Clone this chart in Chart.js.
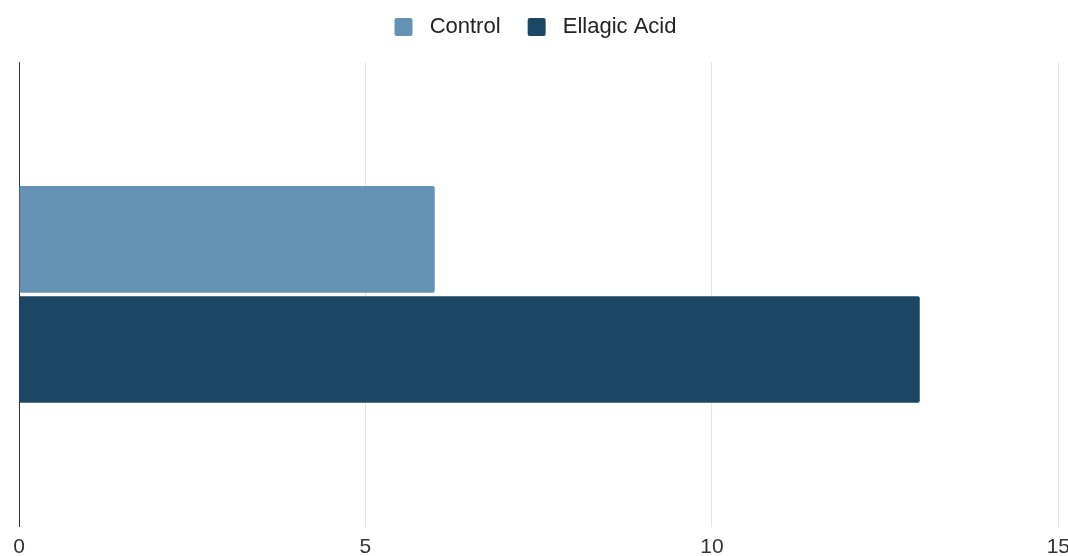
<!DOCTYPE html>
<html>
<head>
<meta charset="utf-8">
<script src="https://cdn.jsdelivr.net/npm/chart.js@4/dist/chart.umd.min.js"></script>
<style>
  html, body { margin: 0; padding: 0; background: #fff; overflow: hidden; }
  #wrap { width: 1078px; height: 568px; }
</style>
</head>
<body>
<div id="wrap"><canvas id="grafico" width="1078" height="568"></canvas></div>
<script>
var categorias = [""];
var nombres = ["Control", "Ellagic Acid"];
var valoresControl = [6];
var valoresEllagic = [13];
var ticksX = [0, 5, 10, 15];

// hueco extra bajo la leyenda
var margenLeyenda = {
    id: 'margenLeyenda',
    beforeInit: function (chart) {
        var fitOriginal = chart.legend.fit;
        chart.legend.fit = function () {
            fitOriginal.bind(chart.legend)();
            this.height += 14;
        };
    }
};

Chart.defaults.font.family = "'Liberation Sans', Arial, sans-serif";
var ctx = document.getElementById("grafico").getContext("2d");
var grafico = new Chart(ctx, {
    type: "bar",
    data: {
        labels: categorias,
        datasets: [
            {label: nombres[0], data: valoresControl, backgroundColor: "#6392b4", borderRadius: 2, borderSkipped: 'start',
             categoryPercentage: 0.474, barPercentage: 0.968},
            {label: nombres[1], data: valoresEllagic, backgroundColor: "#1b4664", borderRadius: 2, borderSkipped: 'start',
             categoryPercentage: 0.474, barPercentage: 0.968}
        ]
    },
    options: {
        indexAxis: 'y',
        responsive: false,
        animation: false,
        layout: {padding: {left: 11, right: 18, top: 6, bottom: 0}},
        plugins: {
            legend: {
                position: 'top',
                labels: {
                    boxWidth: 18, boxHeight: 18, padding: 10, color: '#222', font: {size: 22},
                    useBorderRadius: true, borderRadius: 2,
                    generateLabels: function (chart) {
                        var items = Chart.defaults.plugins.legend.labels.generateLabels(chart);
                        items.forEach(function (it, i) {
                            // separación texto/caja y entre elementos como en la imagen
                            it.text = ' ' + it.text + (i < items.length - 1 ? '\u2002 ' : '');
                            it.lineWidth = 0;
                        });
                        return items;
                    }
                }
            },
            tooltip: {enabled: false}
        },
        scales: {
            x: {
                min: 0,
                max: 15,
                afterBuildTicks: function (axis) {
                    axis.ticks = ticksX.map(function (v) { return {value: v}; });
                },
                grid: {color: '#e4e4e4', drawTicks: false},
                border: {display: false},
                ticks: {color: '#333', padding: 8, font: {size: 21}, maxRotation: 0}
            },
            y: {
                ticks: {display: false},
                grid: {display: false},
                border: {display: true, color: '#333', width: 1}
            }
        }
    },
    plugins: [margenLeyenda]
});
</script>
</body>
</html>
